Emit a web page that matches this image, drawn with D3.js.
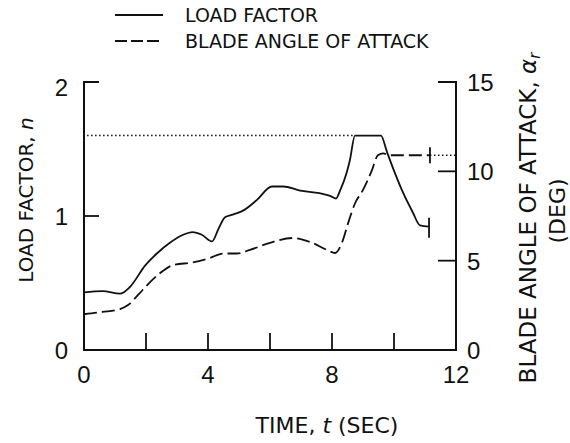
<!DOCTYPE html>
<html>
<head>
<meta charset="utf-8">
<script src="https://cdn.jsdelivr.net/npm/d3@7"></script>
<style>
  body { margin: 0; background: #fff; }
  svg { display: block; }
  text { fill: #111; }
</style>
</head>
<body>
<div id="chart"></div>
<script>
// load factor n vs time t (sec)
const loadTime = [0, 0.6, 1.16, 1.48, 1.97, 2.35, 2.77, 3.2, 3.5, 3.8, 4.13, 4.33, 4.55, 4.8, 5.13, 5.58, 6.06, 6.43, 6.97, 7.6, 7.94, 8.13, 8.26, 8.47, 8.58, 8.74, 9.58, 9.77, 10.03, 10.3, 10.6, 10.84, 11.13]
const loadValue = [0.43, 0.44, 0.42, 0.47, 0.63, 0.72, 0.8, 0.86, 0.88, 0.86, 0.81, 0.9, 0.99, 1.01, 1.04, 1.12, 1.22, 1.22, 1.19, 1.17, 1.15, 1.13, 1.19, 1.32, 1.42, 1.6, 1.6, 1.48, 1.32, 1.17, 1.03, 0.93, 0.92]

// blade angle of attack (deg) vs time
const angleTime = [0, 0.6, 1.16, 1.42, 1.8, 2.13, 2.45, 2.87, 3.5, 4.06, 4.48, 4.93, 5.35, 6.0, 6.74, 7.29, 7.84, 8.1, 8.32, 8.52, 8.74, 9.0, 9.29, 9.48, 9.65, 9.87, 11.16]
const angleValue = [2.0, 2.13, 2.29, 2.52, 3.19, 3.8, 4.3, 4.75, 4.9, 5.15, 5.4, 5.4, 5.6, 6.0, 6.27, 6.05, 5.6, 5.43, 6.0, 7.1, 8.2, 8.96, 10.07, 10.9, 11.0, 10.9, 10.9]

// dotted limit lines
const loadLimit = { t: [0.1, 8.74], n: 1.6 }
const angleLimit = { t: [11.16, 12], a: 10.9 }

const xTicks = [0, 4, 8, 12]
const xMinorTicks = [2, 4, 6, 8, 10]
const leftTicks = [0, 1, 2]
const rightTicks = [0, 5, 10, 15]

const width = 570
const height = 443
const margin = { top: 82, right: 114, bottom: 93, left: 84 }
const innerW = width - margin.left - margin.right
const innerH = height - margin.top - margin.bottom

const svg = d3.select("#chart").append("svg")
  .attr("width", width)
  .attr("height", height)

const g = svg.append("g")
  .attr("transform", `translate(${margin.left},${margin.top})`)

const x = d3.scaleLinear().domain([0, 12]).range([0, innerW])
const yLeft = d3.scaleLinear().domain([0, 2]).range([innerH, 0])
const yRight = d3.scaleLinear().domain([0, 15]).range([innerH, 0])

const numFont = "Liberation Sans, Arial, sans-serif"
const labelFont = "DejaVu Sans, sans-serif"

// frame: left, right and bottom lines (no top line)
g.append("path")
  .attr("d", `M${x(0) + 15},${yLeft(2)}H${x(0)}V${innerH}H${x(12)}V${yRight(15)}H${x(12) - 18}`)
  .attr("fill", "none")
  .attr("stroke", "#111")
  .attr("stroke-width", 2)

// inner ticks
g.selectAll(".xtick").data(xMinorTicks).join("line")
  .attr("x1", d => x(d)).attr("x2", d => x(d))
  .attr("y1", innerH).attr("y2", innerH - 17)
  .attr("stroke", "#111").attr("stroke-width", 1.8)

g.append("line")
  .attr("x1", x(0)).attr("x2", x(0) + 15)
  .attr("y1", yLeft(1)).attr("y2", yLeft(1))
  .attr("stroke", "#111").attr("stroke-width", 1.8)

g.selectAll(".rtick").data([5, 10]).join("line")
  .attr("x1", x(12)).attr("x2", x(12) - 18)
  .attr("y1", d => yRight(d)).attr("y2", d => yRight(d))
  .attr("stroke", "#111").attr("stroke-width", 1.8)

// tick labels
g.selectAll(".xlab").data(xTicks).join("text")
  .attr("x", d => x(d))
  .attr("y", innerH + 33)
  .attr("text-anchor", "middle")
  .style("font", `24px ${numFont}`)
  .text(d => d)

g.selectAll(".llab").data(leftTicks).join("text")
  .attr("x", -16)
  .attr("y", d => yLeft(d) + 9 + (d === 2 ? 5 : 0))
  .attr("text-anchor", "end")
  .style("font", `24px ${numFont}`)
  .text(d => d)

g.selectAll(".rlab").data(rightTicks).join("text")
  .attr("x", innerW + 11)
  .attr("y", d => yRight(d) + 9)
  .attr("text-anchor", "start")
  .style("font", `24px ${numFont}`)
  .text(d => d)

// dotted lines
g.append("line")
  .attr("x1", x(loadLimit.t[0])).attr("x2", x(loadLimit.t[1]))
  .attr("y1", yLeft(loadLimit.n)).attr("y2", yLeft(loadLimit.n))
  .attr("stroke", "#111").attr("stroke-width", 1.5)
  .attr("stroke-dasharray", "1.5,2.5")

g.append("line")
  .attr("x1", x(angleLimit.t[0])).attr("x2", x(angleLimit.t[1]))
  .attr("y1", yRight(angleLimit.a)).attr("y2", yRight(angleLimit.a))
  .attr("stroke", "#111").attr("stroke-width", 1.5)
  .attr("stroke-dasharray", "1.5,2.5")

// data lines
const loadPoints = loadTime.map((t, i) => [t, loadValue[i]])
const anglePoints = angleTime.map((t, i) => [t, angleValue[i]])

const loadLine = d3.line()
  .x(d => x(d[0])).y(d => yLeft(d[1]))
  .curve(d3.curveMonotoneX)

const angleLine = d3.line()
  .x(d => x(d[0])).y(d => yRight(d[1]))
  .curve(d3.curveMonotoneX)

g.append("path")
  .datum(loadPoints)
  .attr("d", loadLine)
  .attr("fill", "none")
  .attr("stroke", "#111")
  .attr("stroke-width", 1.8)
  .attr("stroke-linejoin", "round")

g.append("path")
  .datum(anglePoints)
  .attr("d", angleLine)
  .attr("fill", "none")
  .attr("stroke", "#111")
  .attr("stroke-width", 1.8)
  .attr("stroke-dasharray", "13,5")

// end markers
const lastLoad = loadPoints[loadPoints.length - 1]
g.append("line")
  .attr("x1", x(lastLoad[0])).attr("x2", x(lastLoad[0]))
  .attr("y1", yLeft(lastLoad[1]) - 9).attr("y2", yLeft(lastLoad[1]) + 11)
  .attr("stroke", "#111").attr("stroke-width", 1.8)

const lastAngle = anglePoints[anglePoints.length - 1]
g.append("line")
  .attr("x1", x(lastAngle[0])).attr("x2", x(lastAngle[0]))
  .attr("y1", yRight(lastAngle[1]) - 8).attr("y2", yRight(lastAngle[1]) + 8)
  .attr("stroke", "#111").attr("stroke-width", 1.8)

// axis titles
const xTitle = svg.append("text")
  .attr("x", 327).attr("y", 433)
  .attr("text-anchor", "middle")
  .style("font", `22px ${labelFont}`)
xTitle.append("tspan").text("TIME, ")
xTitle.append("tspan").style("font-style", "italic").text("t")
xTitle.append("tspan").text(" (SEC)")

const yTitle = svg.append("text")
  .attr("transform", "translate(33,200) rotate(-90)")
  .attr("text-anchor", "middle")
  .style("font", `20px ${labelFont}`)
yTitle.append("tspan").text("LOAD FACTOR, ")
yTitle.append("tspan").style("font-style", "italic").text("n")

const rTitle = svg.append("text")
  .attr("transform", "translate(536,218) rotate(-90)")
  .attr("text-anchor", "middle")
  .style("font", `23px ${labelFont}`)
rTitle.append("tspan").text("BLADE ANGLE OF ATTACK, ")
rTitle.append("tspan").style("font-style", "italic").text("α")
rTitle.append("tspan").style("font-style", "italic").style("font-size", "15px").attr("dy", 4).text("r")

svg.append("text")
  .attr("transform", "translate(565,211) rotate(-90)")
  .attr("text-anchor", "middle")
  .style("font", `22px ${labelFont}`)
  .text("(DEG)")

// legend
const legend = svg.append("g")
const legendItems = [
  { label: "LOAD FACTOR", dash: null, y: 15 },
  { label: "BLADE ANGLE OF ATTACK", dash: "12,4", y: 41 }
]
legend.selectAll("line").data(legendItems).join("line")
  .attr("x1", 115).attr("x2", 163)
  .attr("y1", d => d.y).attr("y2", d => d.y)
  .attr("stroke", "#111").attr("stroke-width", 1.8)
  .attr("stroke-dasharray", d => d.dash)
legend.selectAll("text").data(legendItems).join("text")
  .attr("x", 185).attr("y", d => d.y + 7)
  .style("font", `19px ${labelFont}`)
  .text(d => d.label)
</script>
</body>
</html>
